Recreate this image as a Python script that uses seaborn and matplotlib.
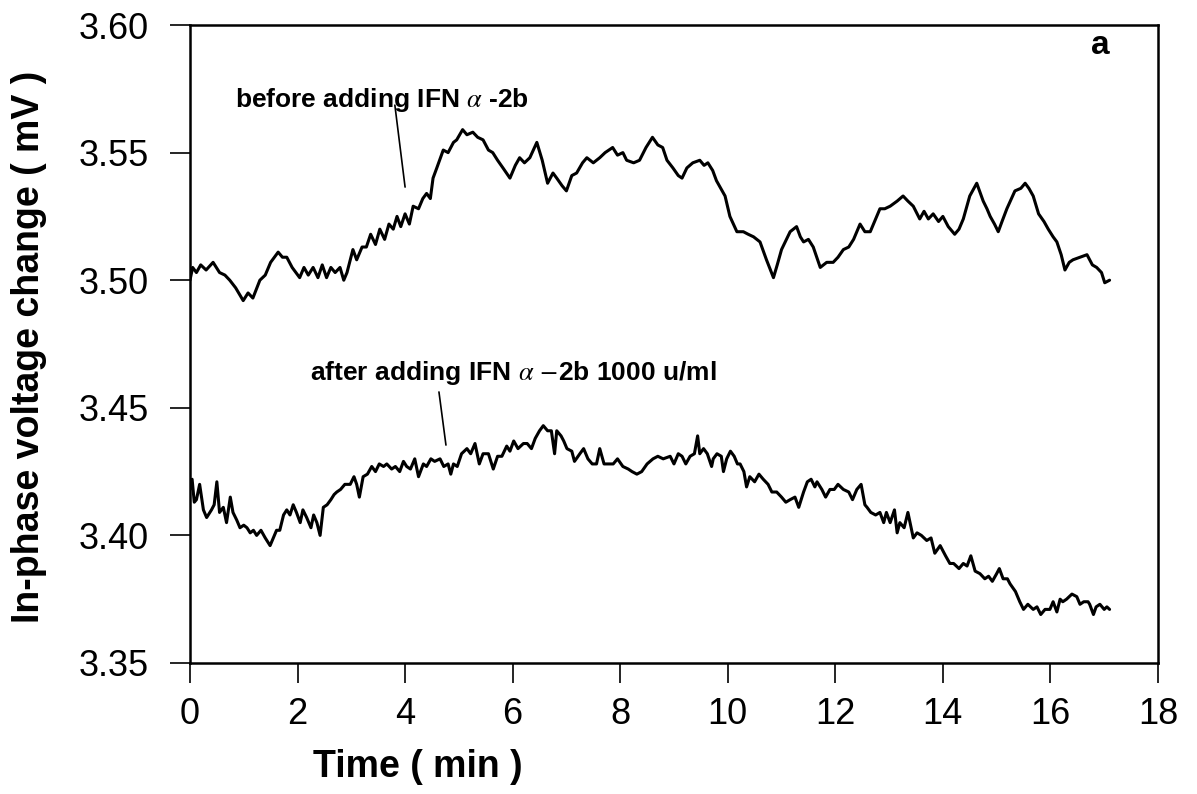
import matplotlib
matplotlib.use("Agg")
import matplotlib.pyplot as plt
from matplotlib import font_manager
import seaborn as sns
import pandas as pd

before_time = [0.00, 0.05, 0.12, 0.20, 0.30, 0.43, 0.55, 0.65, 0.74, 0.85, 0.99, 1.08, 1.17, 1.30, 1.40, 1.50,
               1.64, 1.72, 1.80, 1.90, 2.04, 2.12, 2.20, 2.29, 2.38, 2.46, 2.54, 2.62, 2.70, 2.79, 2.86, 2.92,
               3.03, 3.10, 3.20, 3.28, 3.36, 3.45, 3.53, 3.62, 3.70, 3.78, 3.85, 3.92, 4.00, 4.08, 4.15, 4.25,
               4.33, 4.40, 4.47, 4.52, 4.59, 4.71, 4.80, 4.90, 4.96, 5.07, 5.15, 5.26, 5.35, 5.45, 5.55, 5.63,
               5.72, 5.82, 5.95, 6.05, 6.13, 6.22, 6.32, 6.45, 6.55, 6.65, 6.75, 6.82, 6.92, 7.00, 7.10, 7.19,
               7.30, 7.38, 7.50, 7.62, 7.72, 7.86, 7.95, 8.05, 8.12, 8.25, 8.36, 8.48, 8.60, 8.70, 8.79, 8.87,
               8.98, 9.08, 9.15, 9.24, 9.35, 9.48, 9.56, 9.63, 9.72, 9.79, 9.95, 10.04, 10.17, 10.29, 10.38,
               10.48, 10.60, 10.72, 10.85, 10.92, 11.00, 11.16, 11.28, 11.35, 11.41, 11.50, 11.59, 11.72,
               11.84, 11.96, 12.05, 12.15, 12.25, 12.34, 12.46, 12.55, 12.65, 12.75, 12.83, 12.92, 13.02,
               13.15, 13.26, 13.35, 13.45, 13.57, 13.65, 13.73, 13.82, 13.92, 14.00, 14.10, 14.22, 14.30,
               14.38, 14.50, 14.63, 14.75, 14.82, 14.88, 14.96, 15.03, 15.10, 15.19, 15.34, 15.45, 15.53,
               15.60, 15.68, 15.78, 15.88, 15.96, 16.05, 16.12, 16.20, 16.27, 16.35, 16.42, 16.55, 16.68,
               16.78, 16.86, 16.95, 17.01, 17.10]
before_value = [3.500, 3.505, 3.503, 3.506, 3.504, 3.507, 3.503, 3.502, 3.500, 3.497, 3.492, 3.495, 3.493,
                3.500, 3.502, 3.507, 3.511, 3.509, 3.509, 3.505, 3.501, 3.505, 3.502, 3.505, 3.501, 3.506,
                3.501, 3.505, 3.503, 3.505, 3.500, 3.503, 3.512, 3.508, 3.513, 3.513, 3.518, 3.514, 3.520,
                3.516, 3.522, 3.520, 3.525, 3.521, 3.526, 3.522, 3.529, 3.528, 3.532, 3.534, 3.532, 3.540,
                3.544, 3.551, 3.550, 3.554, 3.555, 3.559, 3.557, 3.558, 3.556, 3.555, 3.551, 3.550, 3.547,
                3.544, 3.540, 3.545, 3.548, 3.546, 3.548, 3.554, 3.547, 3.538, 3.542, 3.540, 3.537, 3.535,
                3.541, 3.542, 3.546, 3.548, 3.546, 3.548, 3.550, 3.552, 3.549, 3.550, 3.547, 3.546, 3.547,
                3.552, 3.556, 3.553, 3.552, 3.547, 3.544, 3.541, 3.540, 3.544, 3.546, 3.547, 3.545, 3.546,
                3.543, 3.539, 3.533, 3.525, 3.519, 3.519, 3.518, 3.517, 3.515, 3.508, 3.501, 3.506, 3.512,
                3.519, 3.521, 3.517, 3.515, 3.516, 3.513, 3.505, 3.507, 3.507, 3.509, 3.512, 3.513, 3.516,
                3.522, 3.519, 3.519, 3.524, 3.528, 3.528, 3.529, 3.531, 3.533, 3.531, 3.529, 3.524, 3.527,
                3.524, 3.526, 3.523, 3.525, 3.521, 3.518, 3.520, 3.524, 3.533, 3.538, 3.531, 3.528, 3.525,
                3.522, 3.519, 3.523, 3.528, 3.535, 3.536, 3.538, 3.536, 3.533, 3.526, 3.523, 3.520, 3.517,
                3.515, 3.510, 3.504, 3.507, 3.508, 3.509, 3.510, 3.506, 3.505, 3.503, 3.499, 3.500]

after_time = [0.00, 0.04, 0.08, 0.12, 0.18, 0.25, 0.31, 0.40, 0.45, 0.50, 0.55, 0.62, 0.68, 0.75, 0.80, 0.87,
              0.93, 1.00, 1.06, 1.12, 1.18, 1.24, 1.32, 1.40, 1.49, 1.55, 1.61, 1.67, 1.74, 1.80, 1.86, 1.92,
              1.98, 2.05, 2.10, 2.17, 2.25, 2.30, 2.36, 2.42, 2.48, 2.55, 2.62, 2.68, 2.73, 2.80, 2.88, 2.98,
              3.05, 3.10, 3.15, 3.22, 3.30, 3.38, 3.45, 3.52, 3.60, 3.66, 3.75, 3.82, 3.90, 3.97, 4.03, 4.10,
              4.18, 4.25, 4.34, 4.40, 4.48, 4.55, 4.65, 4.72, 4.80, 4.85, 4.90, 4.97, 5.05, 5.15, 5.22, 5.30,
              5.38, 5.45, 5.55, 5.64, 5.72, 5.80, 5.89, 5.95, 6.02, 6.10, 6.20, 6.27, 6.35, 6.42, 6.50, 6.57,
              6.65, 6.72, 6.78, 6.82, 6.90, 6.95, 7.01, 7.10, 7.15, 7.25, 7.32, 7.40, 7.48, 7.56, 7.62, 7.70,
              7.80, 7.87, 7.95, 8.05, 8.15, 8.22, 8.31, 8.40, 8.50, 8.61, 8.70, 8.80, 8.93, 9.00, 9.08, 9.15,
              9.22, 9.30, 9.38, 9.44, 9.48, 9.55, 9.62, 9.70, 9.73, 9.80, 9.88, 9.92, 9.98, 10.05, 10.12,
              10.18, 10.23, 10.30, 10.35, 10.41, 10.50, 10.58, 10.66, 10.75, 10.82, 10.91, 11.00, 11.08,
              11.16, 11.25, 11.32, 11.41, 11.48, 11.55, 11.62, 11.66, 11.75, 11.82, 11.90, 11.98, 12.05,
              12.15, 12.25, 12.32, 12.40, 12.48, 12.55, 12.59, 12.66, 12.75, 12.83, 12.90, 12.95, 13.02,
              13.10, 13.15, 13.20, 13.28, 13.35, 13.40, 13.45, 13.52, 13.60, 13.70, 13.78, 13.85, 13.95,
              14.05, 14.13, 14.20, 14.30, 14.38, 14.45, 14.52, 14.60, 14.69, 14.78, 14.85, 14.92, 15.00,
              15.05, 15.12, 15.20, 15.25, 15.35, 15.43, 15.50, 15.58, 15.68, 15.75, 15.82, 15.90, 15.99,
              16.05, 16.12, 16.18, 16.23, 16.30, 16.40, 16.49, 16.55, 16.62, 16.70, 16.73, 16.80, 16.85,
              16.92, 17.00, 17.05, 17.10]
after_value = [3.418, 3.422, 3.413, 3.414, 3.420, 3.410, 3.407, 3.410, 3.412, 3.421, 3.409, 3.411, 3.405,
               3.415, 3.409, 3.406, 3.403, 3.404, 3.403, 3.401, 3.402, 3.400, 3.402, 3.399, 3.396, 3.399,
               3.402, 3.402, 3.408, 3.410, 3.408, 3.412, 3.409, 3.405, 3.410, 3.407, 3.403, 3.408, 3.405,
               3.400, 3.411, 3.412, 3.414, 3.416, 3.417, 3.418, 3.420, 3.420, 3.423, 3.420, 3.415, 3.423,
               3.424, 3.427, 3.425, 3.428, 3.427, 3.428, 3.426, 3.427, 3.425, 3.429, 3.427, 3.426, 3.430,
               3.423, 3.428, 3.427, 3.430, 3.429, 3.430, 3.427, 3.428, 3.424, 3.428, 3.427, 3.432, 3.434,
               3.432, 3.436, 3.428, 3.432, 3.432, 3.426, 3.431, 3.431, 3.435, 3.433, 3.437, 3.434, 3.436,
               3.436, 3.434, 3.438, 3.441, 3.443, 3.441, 3.441, 3.432, 3.441, 3.439, 3.437, 3.434, 3.433,
               3.429, 3.432, 3.434, 3.430, 3.428, 3.428, 3.434, 3.428, 3.428, 3.428, 3.430, 3.427, 3.426,
               3.425, 3.424, 3.425, 3.428, 3.430, 3.431, 3.430, 3.431, 3.428, 3.432, 3.431, 3.428, 3.431,
               3.432, 3.439, 3.432, 3.434, 3.432, 3.427, 3.430, 3.432, 3.431, 3.425, 3.430, 3.433, 3.431,
               3.428, 3.428, 3.425, 3.419, 3.423, 3.421, 3.424, 3.422, 3.420, 3.417, 3.417, 3.415, 3.413,
               3.414, 3.415, 3.411, 3.417, 3.421, 3.422, 3.419, 3.421, 3.418, 3.415, 3.418, 3.418, 3.420,
               3.418, 3.417, 3.414, 3.418, 3.420, 3.412, 3.411, 3.409, 3.408, 3.409, 3.405, 3.409, 3.405,
               3.410, 3.401, 3.405, 3.403, 3.409, 3.404, 3.399, 3.401, 3.400, 3.398, 3.399, 3.393, 3.396,
               3.392, 3.389, 3.389, 3.387, 3.389, 3.388, 3.392, 3.386, 3.385, 3.383, 3.384, 3.382, 3.385,
               3.387, 3.383, 3.383, 3.381, 3.378, 3.374, 3.371, 3.373, 3.371, 3.372, 3.369, 3.371, 3.371,
               3.374, 3.370, 3.375, 3.374, 3.375, 3.377, 3.376, 3.373, 3.374, 3.374, 3.373, 3.369, 3.372,
               3.373, 3.371, 3.372, 3.371]

x_ticks = [0, 2, 4, 6, 8, 10, 12, 14, 16, 18]
y_ticks = [3.35, 3.40, 3.45, 3.50, 3.55, 3.60]
x_label = "Time ( min )"
y_label = "In-phase voltage change ( mV )"
label_before = r"before adding IFN $\alpha$ -2b"
label_after = r"after adding IFN $\alpha$ $-$2b 1000 u/ml"
panel_label = "a"

# ---------------- style ----------------
sns.set_theme(style="ticks")
avail = {f.name for f in font_manager.fontManager.ttflist}
narrow = "Liberation Sans Narrow" if "Liberation Sans Narrow" in avail else "Liberation Sans"
plt.rcParams["font.family"] = ["Liberation Sans", "DejaVu Sans"]
plt.rcParams["mathtext.fontset"] = "stix"
for key in ["text.color", "axes.labelcolor", "xtick.color", "ytick.color", "axes.edgecolor"]:
    plt.rcParams[key] = "black"

fig = plt.figure(figsize=(11.97, 7.94), dpi=100)
ax = fig.add_axes([0.1587, 0.165, 0.8087, 0.8035])

df_b = pd.DataFrame({"t": before_time, "v": before_value})
df_a = pd.DataFrame({"t": after_time, "v": after_value})
sns.lineplot(data=df_b, x="t", y="v", ax=ax, color="black", lw=2.2, sort=False, estimator=None)
sns.lineplot(data=df_a, x="t", y="v", ax=ax, color="black", lw=2.2, sort=False, estimator=None)

ax.set_xlim(0, 18)
ax.set_ylim(3.35, 3.60)
ax.set_xticks(x_ticks)
ax.set_yticks(y_ticks)
ax.set_yticklabels([f"{v:.2f}" for v in y_ticks], fontsize=26, family=["Liberation Sans", "DejaVu Sans"])
ax.set_xticklabels([str(v) for v in x_ticks], fontsize=26, family=[narrow, "DejaVu Sans"])
ax.tick_params(axis="both", direction="out", length=14.5, width=1.2, color="black")
ax.tick_params(axis="y", pad=15)
ax.tick_params(axis="x", pad=10)
for s in ax.spines.values():
    s.set_visible(True)
    s.set_color("black")
    s.set_linewidth(1.8)

ax.set_xlabel(x_label, fontsize=27, fontweight="bold", family=[narrow, "DejaVu Sans"])
ax.set_ylabel(y_label, fontsize=27, fontweight="bold")
ax.xaxis.set_label_coords(0.235, -0.135)
ax.yaxis.set_label_coords(-0.148, 0.495)

ax.text(0.84, 3.5706, label_before, fontsize=19, fontweight="bold", va="center", ha="left")
ax.plot([3.81, 4.0], [3.5686, 3.5365], color="black", lw=1.2)
ax.text(2.23, 3.4636, label_after, fontsize=19, fontweight="bold", va="center", ha="left")
ax.plot([4.63, 4.76], [3.4562, 3.4354], color="black", lw=1.2)
ax.text(16.75, 3.592, panel_label, fontsize=24, fontweight="bold", va="center", ha="left")

fig.savefig("out.png", dpi=100)
